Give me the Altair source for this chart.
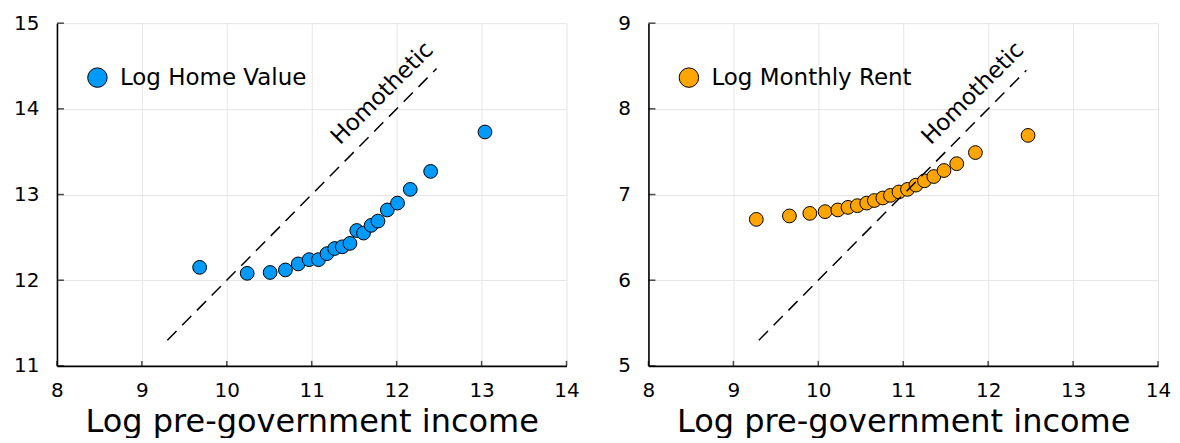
import altair as alt
import pandas as pd

# ---- data ----
x_ticks = [8, 9, 10, 11, 12, 13, 14]
home_y_ticks = [11, 12, 13, 14, 15]
rent_y_ticks = [5, 6, 7, 8, 9]

home_income = [9.68, 10.24, 10.51, 10.69, 10.84, 10.97, 11.08, 11.18, 11.27, 11.36,
               11.45, 11.53, 11.61, 11.70, 11.78, 11.89, 12.01, 12.16, 12.40, 13.04]
home_value = [12.15, 12.08, 12.09, 12.12, 12.19, 12.24, 12.24, 12.31, 12.37, 12.39,
              12.43, 12.58, 12.55, 12.64, 12.69, 12.82, 12.90, 13.06, 13.27, 13.73]

rent_income = [9.27, 9.66, 9.90, 10.08, 10.23, 10.35, 10.46, 10.57, 10.66, 10.76,
               10.85, 10.95, 11.05, 11.15, 11.25, 11.36, 11.48, 11.63, 11.85, 12.47]
rent_value = [6.71, 6.75, 6.78, 6.80, 6.82, 6.85, 6.87, 6.90, 6.93, 6.96,
              6.99, 7.03, 7.06, 7.11, 7.16, 7.21, 7.28, 7.36, 7.49, 7.69]

home_line_x = [9.30, 12.47]
home_line_y = [11.30, 14.47]
rent_line_x = [9.30, 12.45]
rent_line_y = [5.30, 8.45]

home_label_pos = (11.83, 14.18)
rent_label_pos = (11.82, 8.18)

W, H = 510, 343
FONT = "DejaVu Sans"


def panel(xs, ys, lx, ly, label, color, ydom, yticks, tpos):
    pts = pd.DataFrame({"x": xs, "y": ys, "series": [label] * len(xs)})
    line = pd.DataFrame({"x": lx, "y": ly})
    txt = pd.DataFrame({"x": [tpos[0]], "y": [tpos[1]], "t": ["Homothetic"]})
    xt = pd.DataFrame({"x": x_ticks})
    yt = pd.DataFrame({"y": yticks})

    xs_ = alt.Scale(domain=[8, 14], nice=False, zero=False)
    ys_ = alt.Scale(domain=ydom, nice=False, zero=False)

    xaxis = alt.Axis(values=x_ticks, title="Log pre-government income",
                     titleFontSize=32, titleFontWeight="normal", titleFont=FONT,
                     titleColor="black", titlePadding=6,
                     labelFontSize=20, labelFont=FONT, labelColor="black",
                     labelPadding=15, tickSize=0, domainColor="black",
                     domainWidth=1.6, grid=True, gridColor="#e6e6e6",
                     gridWidth=1, labelFlush=False)
    yaxis = alt.Axis(values=yticks, title=None,
                     labelFontSize=20, labelFont=FONT, labelColor="black",
                     labelPadding=18, tickSize=0, domainColor="black",
                     domainWidth=1.6, grid=True, gridColor="#e6e6e6",
                     gridWidth=1, labelFlush=False)

    X = alt.X("x:Q", scale=xs_, axis=xaxis)
    Y = alt.Y("y:Q", scale=ys_, axis=yaxis)

    points = alt.Chart(pts).mark_circle(
        size=190, opacity=1, stroke="black", strokeWidth=1
    ).encode(
        x=X, y=Y,
        color=alt.Color("series:N",
                        scale=alt.Scale(domain=[label], range=[color]),
                        legend=alt.Legend(orient="none", legendX=29, legendY=43,
                                          title=None, symbolType="circle",
                                          symbolSize=380, symbolStrokeColor="black",
                                          symbolStrokeWidth=1, symbolOpacity=1,
                                          labelFontSize=23, labelFont=FONT,
                                          labelColor="black", labelOffset=11,
                                          labelLimit=400, padding=0)),
    )

    dash = alt.Chart(line).mark_line(
        color="black", strokeWidth=1.5, strokeDash=[13, 8]
    ).encode(x=X, y=Y)

    text = alt.Chart(txt).mark_text(
        angle=315, font=FONT, fontSize=23, fontWeight="normal", color="black",
        align="center", baseline="middle"
    ).encode(x=X, y=Y, text="t:N")

    yticks_m = alt.Chart(yt).mark_tick(
        orient="horizontal", color="black", thickness=1.5, size=7
    ).encode(y=Y, x=alt.value(3.5))
    xticks_m = alt.Chart(xt).mark_tick(
        orient="vertical", color="black", thickness=1.5, size=5
    ).encode(x=X, y=alt.value(H - 2.5))

    return alt.layer(points, dash, text, yticks_m, xticks_m).properties(width=W, height=H)


left = panel(home_income, home_value, home_line_x, home_line_y, "Log Home Value",
             "#009AFA", [11, 15], home_y_ticks, home_label_pos)
right = panel(rent_income, rent_value, rent_line_x, rent_line_y, "Log Monthly Rent",
              "#FFA500", [5, 9], rent_y_ticks, rent_label_pos)

chart = alt.hconcat(
    left, right, spacing=38,
    padding={"left": 5, "top": 5, "right": 1, "bottom": 0},
).resolve_scale(
    color="independent", x="independent", y="independent"
).resolve_legend(color="independent").configure(
    font=FONT, background="white", view=alt.ViewConfig(stroke=None)
)

chart.save("out.html", embed_options={"renderer": "svg", "actions": False})
